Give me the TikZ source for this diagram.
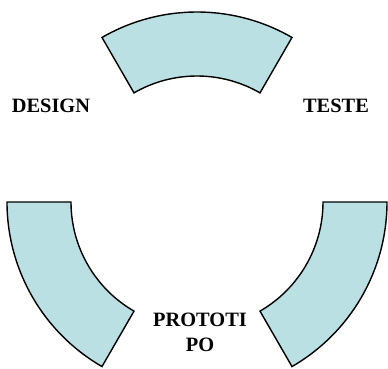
\documentclass[tikz,border=0pt]{standalone}
\usepackage{fontspec}
\setmainfont{Liberation Serif}
\usepackage{tikz}
\usetikzlibrary{positioning}
\definecolor{cyclefill}{RGB}{186,224,227}
\tikzstyle{segmento} = [draw=black, line width=1pt, fill=cyclefill, line join=miter]
\tikzstyle{etapa} = [font=\bfseries\fontsize{14.5}{17.7}\selectfont, align=center, inner sep=0pt]

\begin{document}
\begin{tikzpicture}
\useasboundingbox (-4.925,-4.15) rectangle (4.775,5.05);
% ring segments
\draw[segmento] (60:4.75) arc (60:120:4.75) -- (120:3.15) arc (120:60:3.15) -- cycle;
\draw[segmento] (180:4.75) arc (180:240:4.75) -- (240:3.15) arc (240:180:3.15) -- cycle;
\draw[segmento] (300:4.75) arc (300:360:4.75) -- (0:3.15) arc (360:300:3.15) -- cycle;

% stage labels
\node (design) [etapa] at (-3.65,2.4) {DESIGN};
\node (teste) [etapa] at (3.475,2.4) {TESTE};
\node (prototipo) [etapa] at (0.075,-3.25) {PROTOTI\\PO};
\end{tikzpicture}
\end{document}
